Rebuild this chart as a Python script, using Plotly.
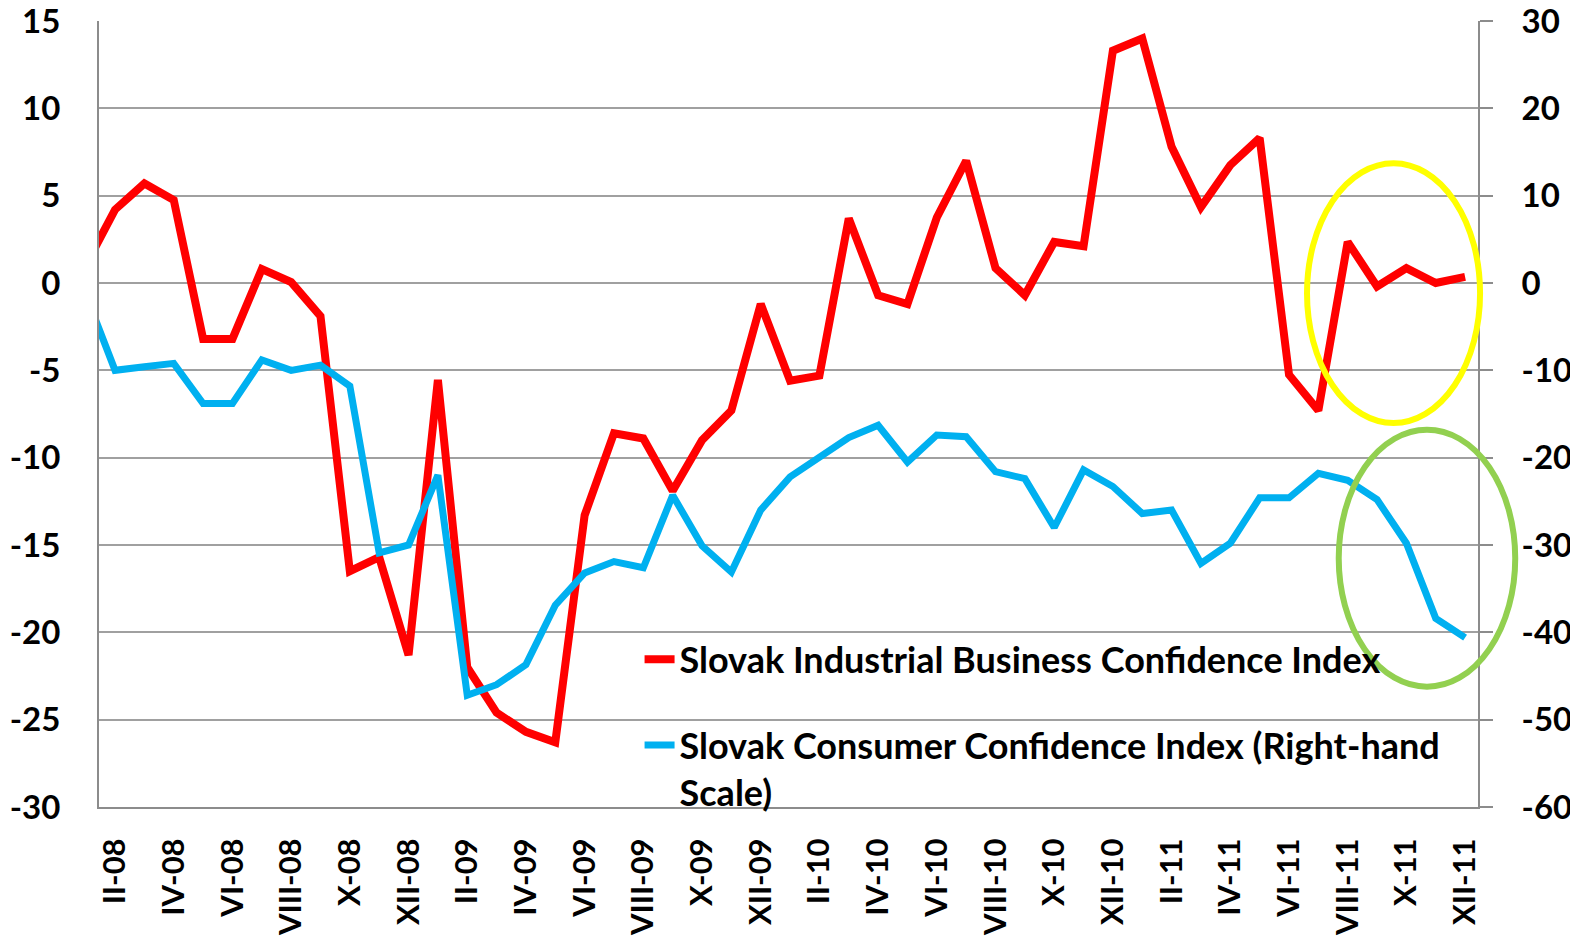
import plotly.graph_objects as go

roman = ["I", "II", "III", "IV", "V", "VI", "VII", "VIII", "IX", "X", "XI", "XII"]
years = ["08", "09", "10", "11"]
months = [f"{m}-{y}" for y in years for m in roman]
tick_labels = months[1::2]

left_ticks = [15, 10, 5, 0, -5, -10, -15, -20, -25, -30]
right_ticks = [30, 20, 10, 0, -10, -20, -30, -40, -50, -60]

industrial = [1.0, 4.2, 5.7, 4.75, -3.2, -3.2, 0.8, 0.05, -1.9, -16.5, -15.7, -21.3,
              -5.55, -22.0, -24.6, -25.7, -26.3, -13.3, -8.6, -8.9, -11.9, -9.0, -7.3, -1.2,
              -5.6, -5.3, 3.7, -0.7, -1.2, 3.75, 7.0, 0.85, -0.7, 2.35, 2.1, 13.3,
              14.0, 7.8, 4.35, 6.75, 8.3, -5.25, -7.3, 2.35, -0.2, 0.85, 0.0, 0.35]
consumer = [-1.3, -10.0, -9.6, -9.2, -13.8, -13.8, -8.8, -10.0, -9.4, -11.8, -30.9, -30.0,
            -22.0, -47.2, -46.0, -43.7, -36.9, -33.2, -31.9, -32.6, -24.3, -30.1, -33.1, -26.0,
            -22.2, -19.9, -17.7, -16.3, -20.5, -17.4, -17.6, -21.6, -22.4, -28.0, -21.4, -23.3,
            -26.4, -26.0, -32.1, -29.8, -24.6, -24.6, -21.8, -22.6, -24.8, -29.8, -38.4, -40.6]

FONT = "Lato"
fig = go.Figure()
fig.add_trace(go.Scatter(x=months, y=industrial, mode="lines", yaxis="y",
                         name="Slovak Industrial Business Confidence Index",
                         legendgroup="a", line=dict(color="#FF0000", width=8)))
fig.add_trace(go.Scatter(x=months, y=consumer, mode="lines", yaxis="y2",
                         name="Slovak Consumer Confidence Index (Right-hand<br>Scale)",
                         legendgroup="b", line=dict(color="#00B0F0", width=7)))

# highlight ellipses
fig.add_shape(type="circle", xref="x domain", yref="y domain",
              x0=0.876, x1=1.0015, y0=0.4885, y1=0.819,
              line=dict(color="#FFFF00", width=6), layer="above")
fig.add_shape(type="circle", xref="x domain", yref="y domain",
              x0=0.899, x1=1.027, y0=0.153, y1=0.480,
              line=dict(color="#92D050", width=6), layer="above")

tickfont = dict(family=FONT, size=33, color="black", weight="bold")
fig.update_layout(
    width=1570, height=928,
    margin=dict(l=91, r=100, t=13, b=129, autoexpand=False),
    paper_bgcolor="white", plot_bgcolor="white",
    showlegend=True,
    legend=dict(x=0.392, y=0.226, xanchor="left", yanchor="top",
                bgcolor="rgba(0,0,0,0)", traceorder="grouped", tracegroupgap=36,
                valign="top",
                font=dict(family=FONT, size=36, color="black", weight="bold")),
    xaxis=dict(type="category", range=[0.453, 47.44], tickmode="array",
               tickvals=tick_labels, ticktext=tick_labels, tickangle=-90,
               tickfont=dict(family=FONT, size=31, color="black", weight="bold"),
               showgrid=False, showline=True,
               linecolor="#8C8C8C", linewidth=2, ticks="", zeroline=False,
               ticklabelstandoff=17, automargin=False, ticklabeloverflow="allow"),
    yaxis=dict(range=[-30, 15], tickmode="array", tickvals=left_ticks,
               ticktext=[str(v) for v in left_ticks], tickfont=tickfont,
               showgrid=True, gridcolor="#A0A0A0", gridwidth=1.5,
               showline=True, linecolor="#8C8C8C", linewidth=2,
               ticks="", zeroline=False, ticklabelstandoff=30, automargin=False,
               ticklabeloverflow="allow"),
    yaxis2=dict(range=[-60, 30], tickmode="array", tickvals=right_ticks,
                ticktext=[str(v) for v in right_ticks], tickfont=tickfont,
                overlaying="y", side="right", showgrid=False,
                showline=True, linecolor="#8C8C8C", linewidth=2,
                ticks="outside", ticklen=13, tickcolor="#8C8C8C", tickwidth=1.5,
                zeroline=False, ticklabelstandoff=22, automargin=False,
                ticklabeloverflow="allow"),
)
fig.write_html("out.html")
